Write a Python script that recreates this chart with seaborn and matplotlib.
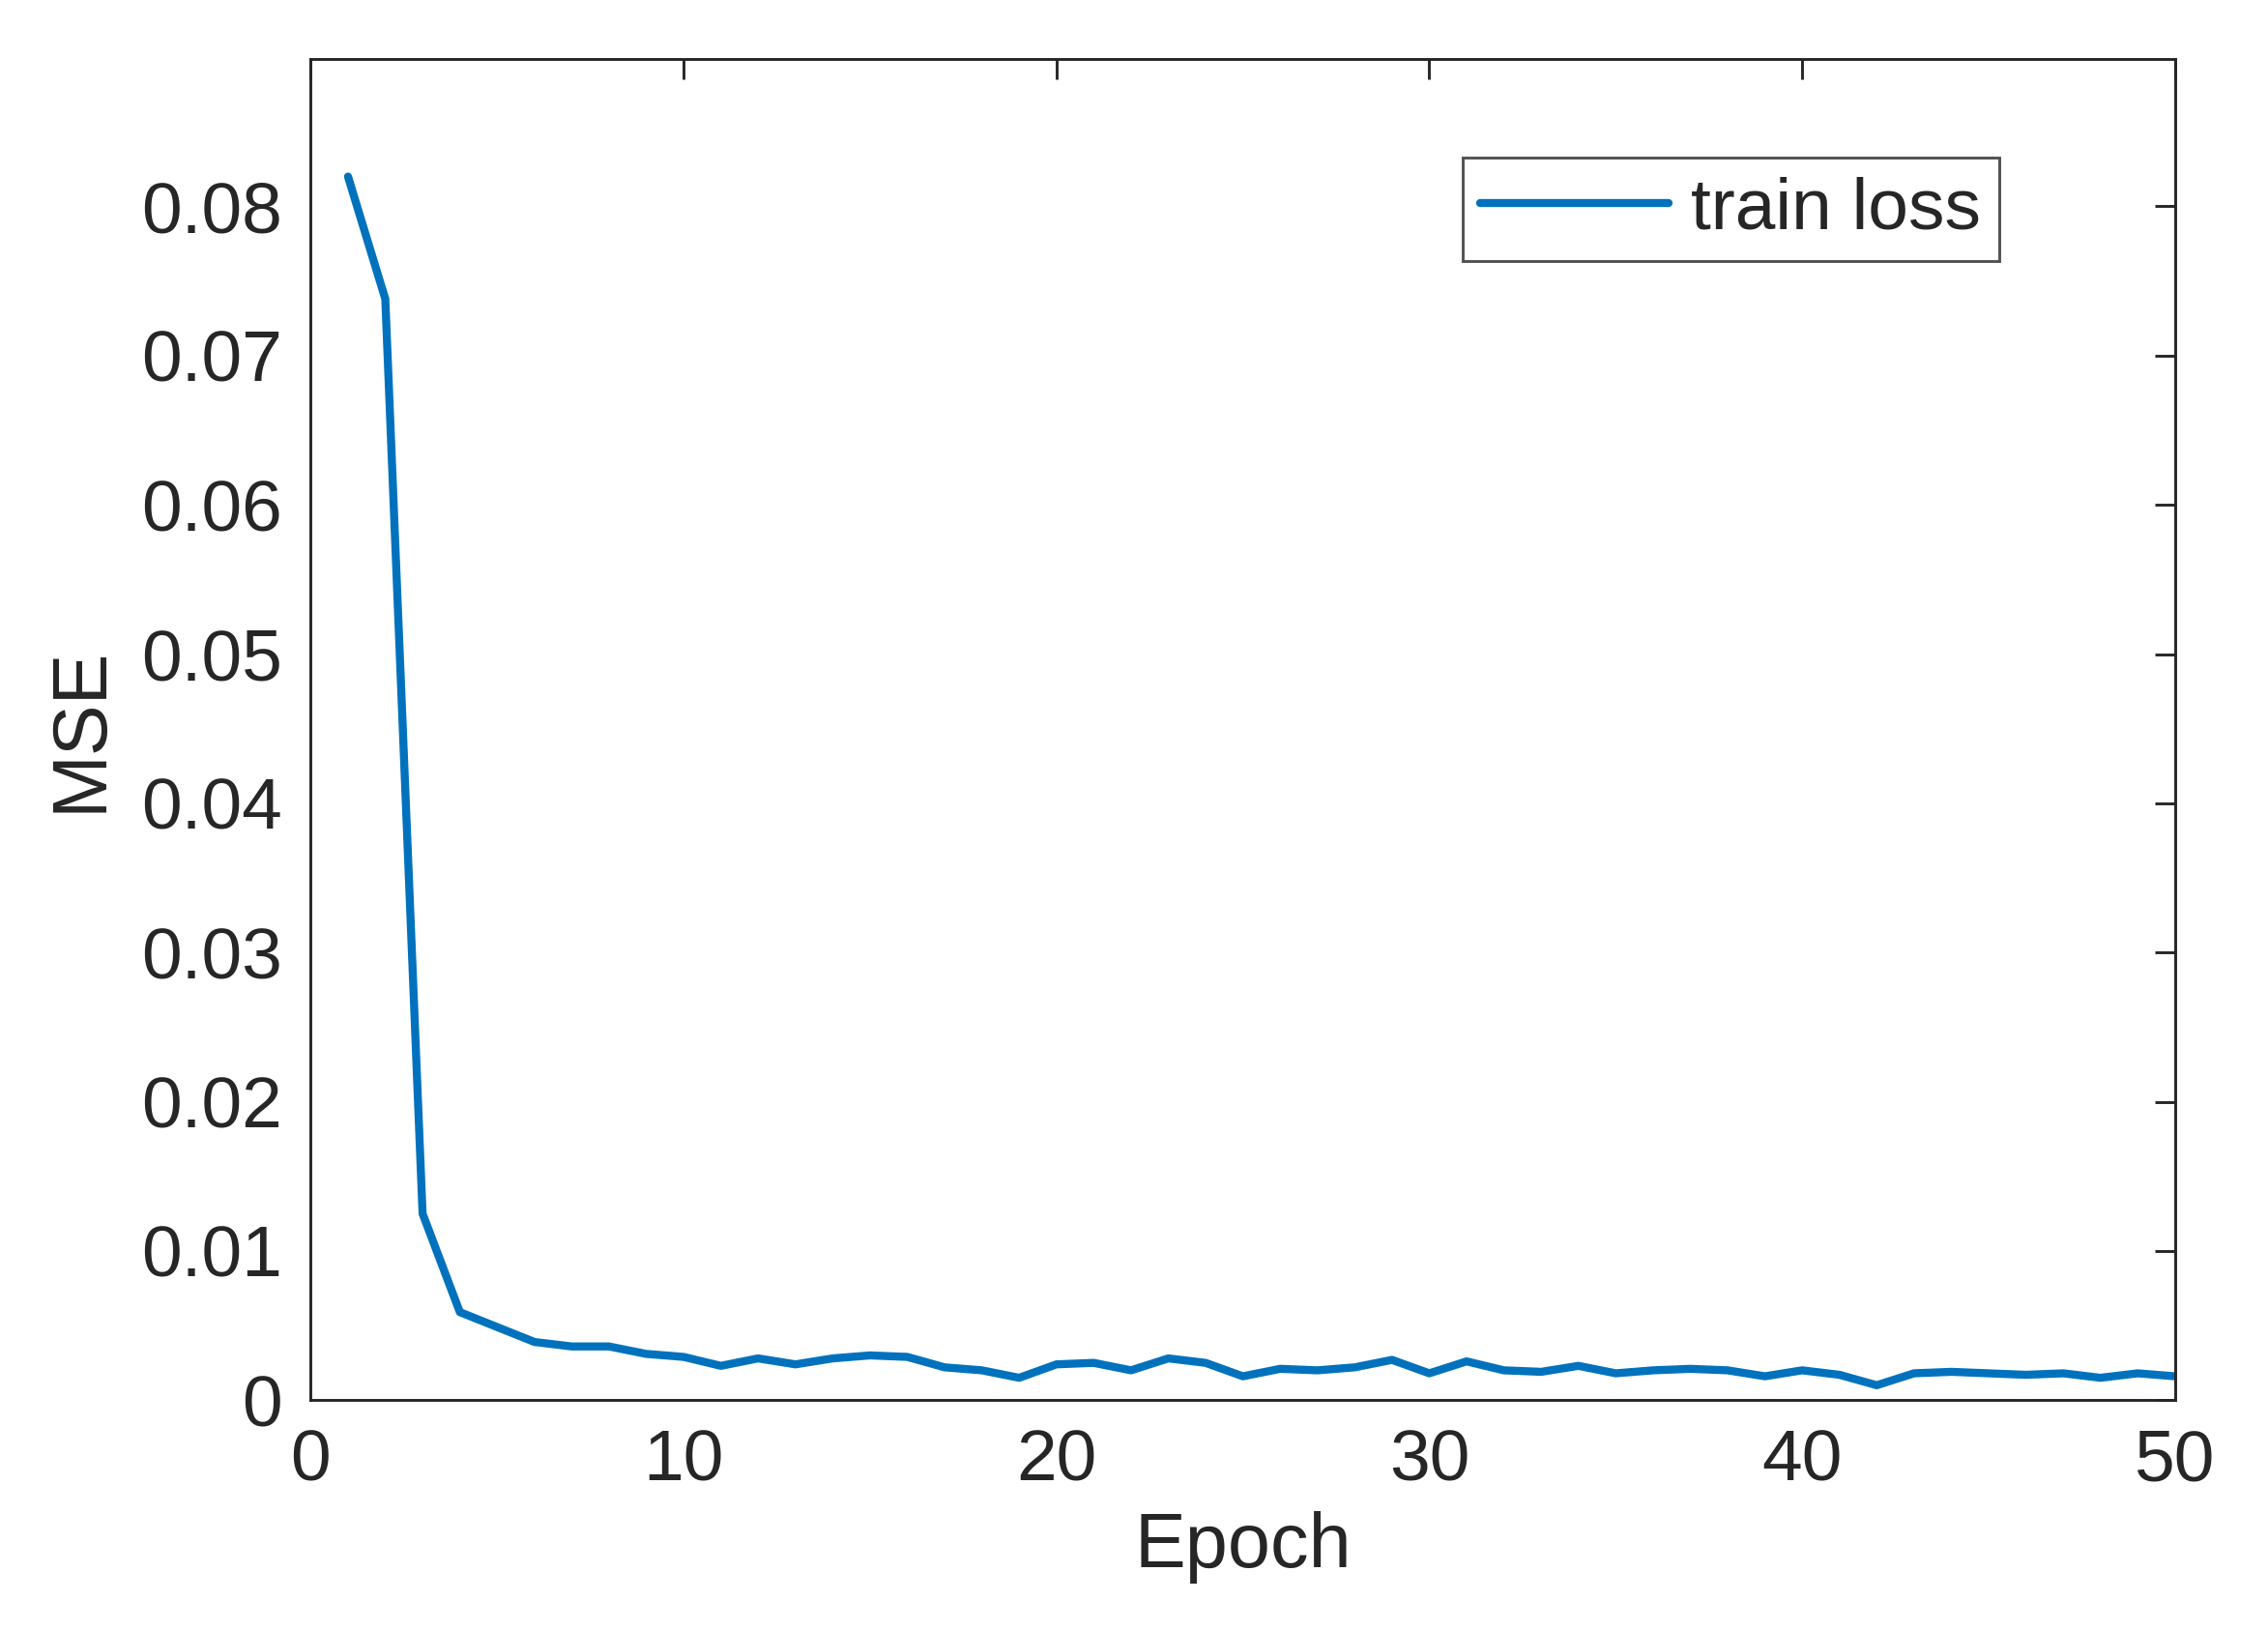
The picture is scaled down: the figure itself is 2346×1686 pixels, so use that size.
import numpy as np
import pandas as pd
import matplotlib
matplotlib.use("Agg")
import matplotlib.pyplot as plt
import seaborn as sns

epochs = list(range(1, 51))
train_loss = [0.0820, 0.0738, 0.0125, 0.0059, 0.0049, 0.0039, 0.0036, 0.0036, 0.0031, 0.0029,
              0.0023, 0.0028, 0.0024, 0.0028, 0.0030, 0.0029, 0.0022, 0.0020, 0.0015, 0.0024,
              0.0025, 0.0020, 0.0028, 0.0025, 0.0016, 0.0021, 0.0020, 0.0022, 0.0027, 0.0018,
              0.0026, 0.0020, 0.0019, 0.0023, 0.0018, 0.0020, 0.0021, 0.0020, 0.0016, 0.0020,
              0.0017, 0.0010, 0.0018, 0.0019, 0.0018, 0.0017, 0.0018, 0.0015, 0.0018, 0.0016]
x_ticks = [0, 10, 20, 30, 40, 50]
y_ticks = [0, 0.01, 0.02, 0.03, 0.04, 0.05, 0.06, 0.07, 0.08]
y_tick_labels = ['0', '0.01', '0.02', '0.03', '0.04', '0.05', '0.06', '0.07', '0.08']

sns.set_style("white")
plt.rcParams['font.family'] = ['Liberation Sans', 'DejaVu Sans']

df = pd.DataFrame({'Epoch': epochs, 'MSE': train_loss})

fig = plt.figure(figsize=(7.82, 5.62), dpi=300)
ax = fig.add_axes([0.137, 0.141, 0.822, 0.823])

sns.lineplot(data=df, x='Epoch', y='MSE', ax=ax, color='#0072BD', linewidth=2.0, label='train loss')

ax.set_xlim(0, 50)
ax.set_ylim(0, 0.0899)
ax.set_xticks(x_ticks)
ax.set_yticks(y_ticks)
ax.set_yticklabels(y_tick_labels)
ax.tick_params(direction='in', length=5, width=0.7, top=True, right=True, pad=7,
               labelsize=18, colors='#262626', labelcolor='#262626')
for s in ax.spines.values():
    s.set_color('#262626')
    s.set_linewidth(0.7)
    s.set_visible(True)
ax.set_xlabel('Epoch', fontsize=19, color='#262626', labelpad=4)
ax.set_ylabel('MSE', fontsize=19, color='#262626', labelpad=6)

leg = ax.legend(loc='upper right', bbox_to_anchor=(0.925, 0.953), fontsize=18, frameon=True,
                fancybox=False, handlelength=2.6, borderpad=0.25, handletextpad=0.3)
leg.get_frame().set_edgecolor('#262626')
leg.get_frame().set_linewidth(0.7)

fig.savefig('out.png', dpi=300, facecolor='white')
